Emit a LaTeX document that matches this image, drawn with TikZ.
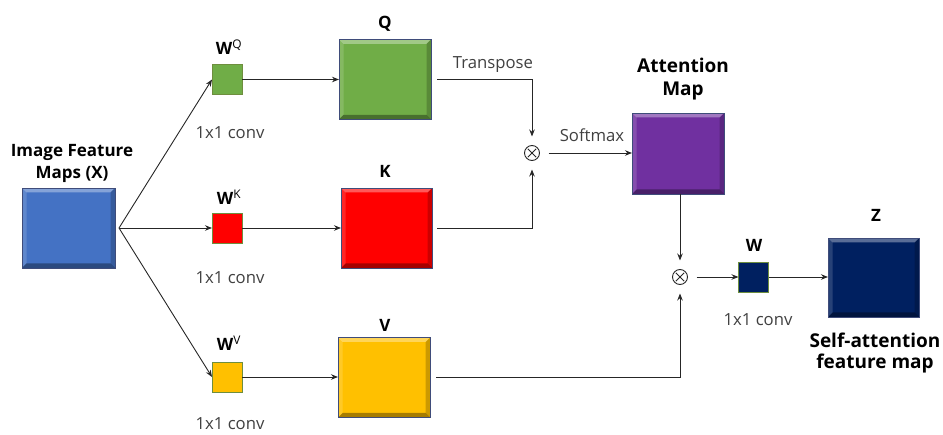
\documentclass[tikz,border=0pt]{standalone}
\usepackage{fontspec}
\setmainfont{Open Sans}
\usetikzlibrary{arrows.meta,calc}
\definecolor{cX}{HTML}{4472C4}
\definecolor{cQ}{HTML}{70AD47}
\definecolor{cK}{HTML}{FF0000}
\definecolor{cV}{HTML}{FFC000}
\definecolor{cA}{HTML}{7030A0}
\definecolor{cZ}{HTML}{002060}
\definecolor{edgeblue}{HTML}{3F4C7A}
\definecolor{olivebd}{HTML}{6E8E3E}
\newcommand\bevelbox[1]{%
  \fill[white,opacity=.35] (#1.north west) -- (#1.north east) -- ([shift={(-4.5pt,-4.5pt)}]#1.north east) -- ([shift={(4.5pt,-4.5pt)}]#1.north west) -- cycle;
  \fill[white,opacity=.15] (#1.north west) -- ([shift={(4.5pt,-4.5pt)}]#1.north west) -- ([shift={(4.5pt,4.5pt)}]#1.south west) -- (#1.south west) -- cycle;
  \fill[black,opacity=.2] (#1.north east) -- ([shift={(-4.5pt,-4.5pt)}]#1.north east) -- ([shift={(-4.5pt,4.5pt)}]#1.south east) -- (#1.south east) -- cycle;
  \fill[black,opacity=.35] (#1.south west) -- ([shift={(4.5pt,4.5pt)}]#1.south west) -- ([shift={(-4.5pt,4.5pt)}]#1.south east) -- (#1.south east) -- cycle;
  \draw[edgeblue,line width=0.8pt] (#1.north west) rectangle (#1.south east);
}
\tikzset{
  big/.style={fill=#1, minimum width=92pt, minimum height=80pt, inner sep=0pt, outer sep=0pt},
  small/.style={fill=#1, draw=olivebd, line width=0.8pt, minimum size=30pt, inner sep=0pt, outer sep=0pt},
  arr/.style={line width=0.9pt, draw=black!85, -{Stealth[length=7pt,width=5.5pt]}},
  lab/.style={font=\fontsize{17}{20}\selectfont\bfseries, inner sep=0pt},
  biglab/.style={font=\fontsize{19}{23}\selectfont\bfseries, inner sep=0pt, align=center},
  conv/.style={font=\fontsize{16.7}{19}\selectfont, text=black!75, inner sep=0pt},
  otimesnode/.style={circle, draw=black!85, line width=0.9pt, minimum size=15pt, inner sep=0pt, outer sep=9pt,
    path picture={
      \draw[black!85,line width=0.9pt] ([shift={(-4.2pt,-4.2pt)}]path picture bounding box.center) -- ([shift={(4.2pt,4.2pt)}]path picture bounding box.center);
      \draw[black!85,line width=0.9pt] ([shift={(-4.2pt,4.2pt)}]path picture bounding box.center) -- ([shift={(4.2pt,-4.2pt)}]path picture bounding box.center);
    }},
}
\begin{document}
\begin{tikzpicture}[x=1pt,y=-1pt]
\useasboundingbox (0,0) rectangle (943,435);
% big boxes
\node[big=cX, minimum width=93pt] (x) at (68.5,228) {};
\node[big=cQ] (q) at (385,79.5) {};
\node[big=cK, minimum width=91pt] (k) at (386.5,228) {};
\node[big=cV] (v) at (384,377.5) {};
\node[big=cA, minimum height=81pt] (att) at (678,153.5) {};
\node[big=cZ, minimum width=91pt, minimum height=79pt] (z) at (873.5,277.5) {};
\bevelbox{x}\bevelbox{q}\bevelbox{k}\bevelbox{v}\bevelbox{att}\bevelbox{z}
% small boxes
\node[small=cQ] (wq) at (227,79.5) {};
\node[small=cK] (wk) at (227,228) {};
\node[small=cV] (wv) at (227,377) {};
\node[small=cZ] (w) at (753.5,277) {};
% multiplications
\node[otimesnode] (m1) at (532,153) {};
\node[otimesnode] (m2) at (680,277) {};
\coordinate (xo) at (119,228);
% labels
\node[lab, align=center] (xl1) at (72,152) {Image Feature};
\node[lab] (xl2) at (72,174) {Maps (X)};
\node[lab] (lwq) at (229,47) {W\textsuperscript{\mdseries Q}};
\node[lab] (lwk) at (229,197) {W\textsuperscript{\mdseries K}};
\node[lab] (lwv) at (229,343) {W\textsuperscript{\mdseries V}};
\node[lab] (lq) at (385,24) {Q};
\node[lab] (lk) at (385,171) {K};
\node[lab] (lv) at (385,325) {V};
\node[lab] (lw) at (754,245) {W};
\node[lab] (lz) at (876,215) {Z};
\node[conv] (c1) at (230,133) {1x1 conv};
\node[conv] (c2) at (230,278) {1x1 conv};
\node[conv] (c3) at (230,424) {1x1 conv};
\node[conv] (c4) at (758,320) {1x1 conv};
\node[conv] (tr) at (493,65) {Transpose};
\node[conv] (sm) at (592,135) {Softmax};
\node[biglab] (al1) at (683,65) {Attention};
\node[biglab] (al2) at (683,91) {Map};
\node[biglab] (zl1) at (875,340) {Self-attention};
\node[biglab] (zl2) at (875,364) {feature map};
% connectors
\draw[arr] (xo) -- (wq.west);
\draw[arr] (xo) -- (wk.west);
\draw[arr] (xo) -- (wv.west);
\draw[arr] (wq) -- (q);
\draw[arr] (wk) -- (k);
\draw[arr] (wv.east) -- (wv.east -| v.west);
\draw[arr] ([xshift=6pt]q.east) -| (m1);
\draw[arr] ([xshift=5pt]k.east) -| (m1);
\draw[arr] (m1.east) -- (m1.east -| att.west);
\draw[arr] (att.south -| m2) -- (m2);
\draw[arr] ([xshift=6pt]v.east) -| (m2);
\draw[arr] (m2) -- (w);
\draw[arr] (w) -- (w -| z.west);
\end{tikzpicture}
\end{document}
